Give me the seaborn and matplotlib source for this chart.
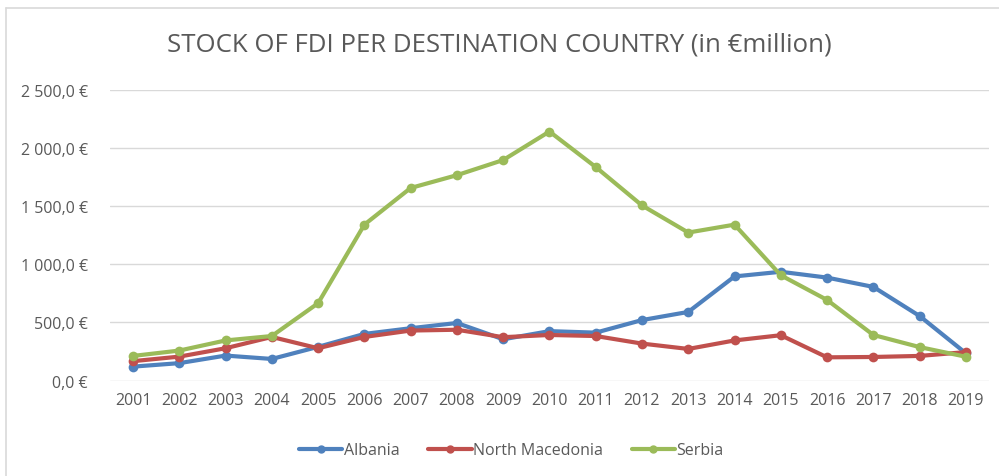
import numpy as np
import pandas as pd
import matplotlib.pyplot as plt
import seaborn as sns
from matplotlib.lines import Line2D
from matplotlib.ticker import FuncFormatter

years = [str(y) for y in range(2001, 2020)]
albania = [120, 150, 215, 186, 290, 401, 450, 495, 355, 425, 412, 520, 590, 895, 935, 885, 805, 555, 235]
north_macedonia = [167, 206, 278, 375, 278, 375, 430, 437, 373, 392, 383, 318, 272, 345, 390, 200, 203, 212, 245]
serbia = [212, 258, 345, 383, 665, 1340, 1655, 1765, 1895, 2140, 1835, 1505, 1272, 1340, 905, 693, 392, 288, 205]

countries = ["Albania", "North Macedonia", "Serbia"]
colors = ["#4F81BD", "#C0504D", "#9BBB59"]

df = pd.DataFrame({"year": years, "Albania": albania,
                   "North Macedonia": north_macedonia, "Serbia": serbia})
long = df.melt(id_vars="year", var_name="country", value_name="value")

sns.set_theme(style="white")
plt.rcParams['font.family'] = ['Open Sans', 'DejaVu Sans']

fig = plt.figure(figsize=(9.99, 4.77), dpi=100)
ax = fig.add_axes([0.110, 0.200, 0.880, 0.610])

sns.lineplot(data=long, x="year", y="value", hue="country", hue_order=countries,
             palette=colors, marker="o", markersize=7, markeredgewidth=0,
             linewidth=3, legend=False, ax=ax, sort=False)

ax.set_xlim(-0.5, len(years) - 0.5)
ax.set_ylim(0, 2500)
ax.set_yticks(np.arange(0, 2501, 500))


def euro(v, pos):
    s = f"{v:,.1f}".replace(",", " ").replace(".", ",")
    return s + " €"


ax.yaxis.set_major_formatter(FuncFormatter(euro))
ax.grid(axis="y", color="#D9D9D9", linewidth=1)
ax.set_axisbelow(True)
for s in ax.spines.values():
    s.set_visible(False)
ax.tick_params(axis="both", length=0, labelsize=11.5, colors="#595959", pad=8)
ax.tick_params(axis="y", pad=16)
ax.set_xlabel("")
ax.set_ylabel("")

fig.text(0.5, 0.905, "STOCK OF FDI PER DESTINATION COUNTRY (in €million)",
         ha="center", va="center", fontsize=18.5, color="#595959")

handles = [Line2D([0], [0], color=c, lw=3, marker="o", markersize=5) for c in colors]
fig.legend(handles, countries, loc="center", bbox_to_anchor=(0.512, 0.054), ncol=3,
           frameon=False, fontsize=11.5, handlelength=2.7, columnspacing=1.8,
           handletextpad=0.1, labelcolor="#595959")

# chart frame (top and left edges only visible in the reference)
fig.add_artist(Line2D([6 / 999, 1], [1 - 9 / 477, 1 - 9 / 477], color="#D9D9D9", lw=1.2))
fig.add_artist(Line2D([6 / 999, 6 / 999], [0, 1 - 9 / 477], color="#D9D9D9", lw=1.2))

fig.savefig("out.png", dpi=100)
